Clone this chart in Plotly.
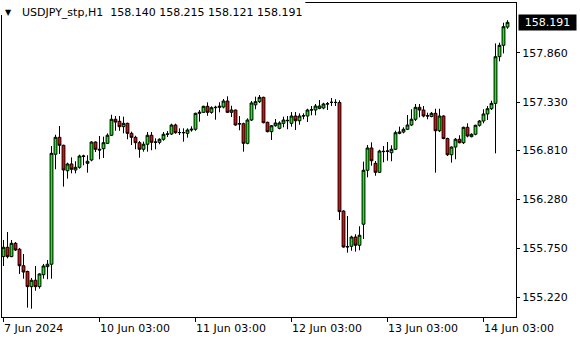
import pandas as pd
import plotly.graph_objects as go

# ---- data (USDJPY_stp, H1) ----
times = [t.strftime("%Y-%m-%d %H:%M") for t in
         list(pd.date_range("2024-06-07 03:00", "2024-06-07 23:00", freq="h")) +
         list(pd.date_range("2024-06-10 00:00", "2024-06-14 09:00", freq="h"))]

opens = [155.660, 155.761, 155.660, 155.804, 155.740, 155.562, 155.500, 155.336, 155.405, 155.336,
         155.465, 155.552, 155.578, 156.766, 156.949, 156.863, 156.588, 156.661, 156.596, 156.625,
         156.742, 156.668, 156.704, 156.898, 156.820, 156.826, 156.884, 156.971, 157.144, 157.122,
         157.064, 157.100, 156.992, 156.949, 156.891, 156.820, 156.874, 156.971, 156.895, 156.895,
         156.928, 156.982, 156.985, 157.082, 156.999, 157.001, 156.992, 157.028, 157.036, 157.208,
         157.219, 157.284, 157.219, 157.269, 157.273, 157.276, 157.341, 157.219, 157.244, 157.093,
         157.096, 156.884, 157.136, 157.300, 157.334, 157.381, 157.111, 157.010, 157.074, 157.046,
         157.100, 157.128, 157.100, 157.179, 157.128, 157.179, 157.179, 157.244, 157.244, 157.262,
         157.266, 157.309, 157.327, 157.327, 157.325, 156.153, 155.764, 155.772, 155.872, 155.783,
         156.010, 156.593, 156.834, 156.668, 156.571, 156.794, 156.797, 156.783, 156.820, 156.992,
         157.006, 157.036, 157.082, 157.144, 157.273, 157.244, 157.179, 157.174, 157.208, 157.020,
         157.179, 156.936, 156.761, 156.844, 156.928, 156.891, 157.057, 156.956, 156.982, 157.079,
         157.125, 157.201, 157.258, 157.316, 157.820, 157.943, 158.140]
highs = [155.840, 155.926, 155.840, 155.818, 155.754, 155.689, 155.508, 155.430, 155.559, 155.480,
         155.581, 155.624, 156.855, 156.977, 157.071, 156.869, 156.675, 156.733, 156.690, 156.761,
         156.761, 156.755, 156.906, 156.906, 156.963, 156.956, 156.992, 157.193, 157.179, 157.179,
         157.172, 157.107, 157.010, 156.966, 156.909, 156.902, 157.006, 157.006, 156.938, 156.938,
         157.006, 157.017, 157.096, 157.096, 157.046, 157.046, 157.046, 157.068, 157.215, 157.244,
         157.290, 157.327, 157.284, 157.290, 157.327, 157.363, 157.392, 157.290, 157.247, 157.179,
         157.107, 157.154, 157.341, 157.388, 157.406, 157.388, 157.118, 157.082, 157.147, 157.122,
         157.172, 157.179, 157.222, 157.222, 157.208, 157.208, 157.258, 157.287, 157.309, 157.352,
         157.323, 157.330, 157.374, 157.360, 157.349, 156.161, 156.099, 155.886, 155.902, 155.988,
         156.686, 156.866, 156.895, 156.693, 156.815, 156.855, 156.898, 156.863, 157.020, 157.064,
         157.057, 157.190, 157.252, 157.309, 157.309, 157.287, 157.215, 157.222, 157.258, 157.258,
         157.187, 156.945, 156.850, 156.942, 156.971, 157.064, 157.100, 156.992, 157.085, 157.136,
         157.252, 157.287, 157.344, 157.964, 157.971, 158.187, 158.215]
lows = [155.559, 155.642, 155.655, 155.721, 155.473, 155.422, 155.109, 155.098, 155.292, 155.314,
        155.422, 155.416, 155.422, 156.604, 156.769, 156.416, 156.502, 156.560, 156.560, 156.610,
        156.647, 156.567, 156.690, 156.790, 156.712, 156.726, 156.877, 156.963, 157.020, 157.020,
        156.992, 156.928, 156.866, 156.820, 156.729, 156.794, 156.794, 156.809, 156.820, 156.874,
        156.912, 156.952, 156.974, 156.988, 156.974, 156.902, 156.945, 157.010, 157.020, 157.118,
        157.212, 157.182, 157.204, 157.139, 157.219, 157.262, 157.212, 157.168, 157.074, 157.025,
        156.794, 156.874, 157.125, 157.252, 157.320, 157.100, 157.003, 156.920, 157.064, 157.036,
        157.057, 157.036, 157.064, 157.028, 157.085, 157.144, 157.114, 157.187, 157.187, 157.252,
        157.252, 157.244, 157.287, 157.287, 156.056, 155.757, 155.703, 155.724, 155.714, 155.729,
        155.851, 156.517, 156.642, 156.534, 156.564, 156.679, 156.696, 156.690, 156.812, 156.982,
        156.992, 157.028, 157.071, 157.125, 157.165, 157.165, 157.144, 157.165, 156.567, 157.006,
        156.928, 156.747, 156.675, 156.712, 156.884, 156.877, 156.949, 156.949, 156.971, 157.064,
        157.100, 157.136, 157.244, 156.776, 157.770, 157.856, 158.121]
closes = [155.761, 155.660, 155.804, 155.732, 155.562, 155.494, 155.336, 155.405, 155.336, 155.473,
          155.559, 155.578, 156.776, 156.949, 156.863, 156.596, 156.661, 156.604, 156.625, 156.747,
          156.747, 156.690, 156.898, 156.820, 156.812, 156.891, 156.971, 157.144, 157.114, 157.064,
          157.100, 156.992, 156.949, 156.891, 156.820, 156.874, 156.971, 156.895, 156.898, 156.928,
          156.982, 156.985, 157.082, 156.999, 157.001, 156.999, 157.028, 157.036, 157.208, 157.219,
          157.284, 157.219, 157.269, 157.273, 157.284, 157.341, 157.219, 157.244, 157.082, 157.096,
          156.884, 157.136, 157.320, 157.334, 157.381, 157.107, 157.010, 157.074, 157.104, 157.104,
          157.136, 157.132, 157.179, 157.128, 157.179, 157.182, 157.244, 157.246, 157.287, 157.287,
          157.309, 157.311, 157.327, 157.325, 156.146, 155.764, 155.768, 155.872, 155.783, 155.891,
          156.593, 156.834, 156.696, 156.571, 156.801, 156.797, 156.801, 156.820, 156.999, 157.006,
          157.036, 157.082, 157.144, 157.273, 157.244, 157.179, 157.182, 157.208, 157.020, 157.179,
          156.936, 156.761, 156.844, 156.928, 156.891, 157.057, 156.963, 156.982, 157.079, 157.125,
          157.201, 157.258, 157.316, 157.820, 157.943, 158.144, 158.191]

price_ticks = [155.220, 155.750, 156.280, 156.810, 157.330, 157.860]
time_ticks = ["2024-06-07 03:00", "2024-06-10 03:00", "2024-06-11 03:00",
              "2024-06-12 03:00", "2024-06-13 03:00", "2024-06-14 03:00"]
time_labels = ["7 Jun 2024", "10 Jun 03:00", "11 Jun 03:00",
               "12 Jun 03:00", "13 Jun 03:00", "14 Jun 03:00"]
symbol = "USDJPY_stp,H1"
last_price = closes[-1]

FONT = "DejaVu Sans"

fig = go.Figure(go.Candlestick(
    x=times, open=opens, high=highs, low=lows, close=closes,
    increasing=dict(line=dict(color="black", width=1), fillcolor="#00ff00"),
    decreasing=dict(line=dict(color="black", width=1), fillcolor="#ff0000"),
    whiskerwidth=0, hoverinfo="skip", showlegend=False))

fig.update_layout(
    width=580, height=340,
    margin=dict(l=2, r=64, t=3, b=23),
    paper_bgcolor="white", plot_bgcolor="white",
    boxgap=0.3, boxgroupgap=0,
    font=dict(family=FONT, size=11, color="black"),
    hovermode=False,
)

fig.update_xaxes(
    type="category", range=[-0.375, 128.125],
    tickvals=time_ticks, showticklabels=False,
    ticks="outside", ticklen=4, tickcolor="black", tickwidth=1,
    showgrid=False, zeroline=False,
    showline=True, linecolor="black", linewidth=1, mirror=True,
    rangeslider=dict(visible=False), fixedrange=True,
)
fig.update_yaxes(
    side="right", range=[155.008, 158.400],
    tickvals=price_ticks, ticktext=[f"{v:.3f}" for v in price_ticks],
    ticks="outside", ticklen=3, tickcolor="black", tickwidth=1,
    tickfont=dict(family=FONT, size=11, color="black"),
    showgrid=False, zeroline=False,
    showline=True, linecolor="black", linewidth=1, mirror=True,
    fixedrange=True,
)

# white patch behind the title (covers frame there, as in the terminal)
fig.add_shape(type="rect", xref="paper", yref="paper",
              x0=-0.01, x1=0.59, y0=0.962, y1=1.02,
              fillcolor="white", line=dict(width=0), layer="above")

# x labels, left-aligned at each tick
for t, lab in zip(time_ticks, time_labels):
    fig.add_annotation(x=t, xref="x", y=0, yref="paper", text=lab,
                       showarrow=False, xanchor="left", yanchor="top",
                       xshift=-2, yshift=-3,
                       font=dict(family=FONT, size=11, color="black"))

# current price box
fig.add_annotation(x=1, xref="paper", y=last_price, yref="y",
                   text=f"{last_price:.3f}", showarrow=False,
                   xanchor="left", yanchor="middle", xshift=2,
                   bgcolor="black", borderpad=0, width=57, height=15, align="center",
                   font=dict(family=FONT, size=11, color="white"))

# title
fig.add_annotation(x=0, xref="paper", y=1, yref="paper", text="▼",
                   showarrow=False, xanchor="left", yanchor="middle",
                   xshift=1, yshift=-9.5,
                   font=dict(family=FONT, size=8, color="black"))
title_text = (symbol + "\u00a0\u00a0" + "\u00a0".join(
    f"{v:.3f}" for v in (opens[-1], highs[-1], lows[-1], closes[-1])))
fig.add_annotation(x=0, xref="paper", y=1, yref="paper", text=title_text,
                   showarrow=False, xanchor="left", yanchor="middle",
                   xshift=18, yshift=-9.5,
                   font=dict(family=FONT, size=11, color="black"))

fig.write_html("out.html")
